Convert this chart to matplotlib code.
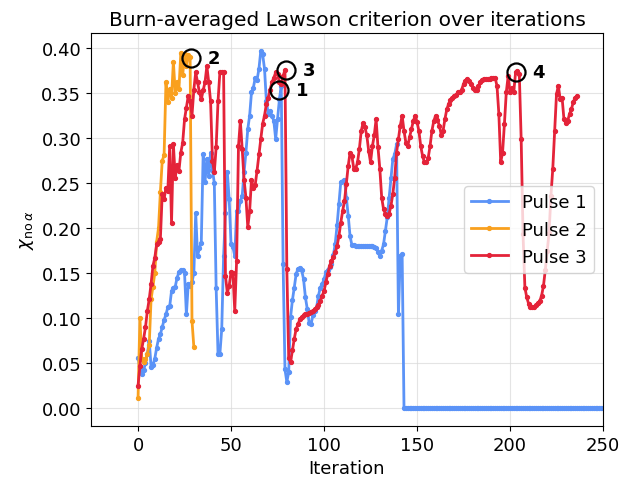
import matplotlib
matplotlib.use("Agg")
import matplotlib.pyplot as plt

pulse1 = [0.056, 0.045, 0.038, 0.042, 0.050, 0.060, 0.075, 0.046, 0.048, 0.055,
          0.067, 0.077, 0.082, 0.090, 0.098, 0.104, 0.112, 0.113, 0.130, 0.133,
          0.135, 0.145, 0.151, 0.153, 0.154, 0.150, 0.104, 0.138, 0.136, 0.140,
          0.150, 0.217, 0.169, 0.178, 0.184, 0.282, 0.251, 0.277, 0.258, 0.284,
          0.265, 0.250, 0.133, 0.060, 0.060, 0.088, 0.169, 0.217, 0.262, 0.232,
          0.182, 0.179, 0.169, 0.219, 0.219, 0.230, 0.236, 0.262, 0.284, 0.310,
          0.325, 0.351, 0.356, 0.367, 0.365, 0.377, 0.397, 0.393, 0.377, 0.341,
          0.327, 0.330, 0.325, 0.319, 0.299, 0.321, 0.343, 0.358, 0.160, 0.043,
          0.029, 0.040, 0.101, 0.120, 0.134, 0.149, 0.155, 0.156, 0.153, 0.143,
          0.123, 0.110, 0.095, 0.093, 0.103, 0.108, 0.112, 0.125, 0.134, 0.138,
          0.143, 0.151, 0.153, 0.157, 0.160, 0.170, 0.182, 0.203, 0.227, 0.251,
          0.252, 0.254, 0.234, 0.214, 0.191, 0.181, 0.181, 0.180, 0.180, 0.180,
          0.180, 0.180, 0.180, 0.180, 0.180, 0.180, 0.180, 0.179, 0.178, 0.173,
          0.169, 0.175, 0.182, 0.197, 0.212, 0.234, 0.256, 0.277, 0.282, 0.293,
          0.104, 0.169, 0.171] + [0.0] * 108

pulse2 = [0.011, 0.100, 0.055, 0.051, 0.054, 0.060, 0.070, 0.121, 0.135, 0.150,
          0.185, 0.200, 0.240, 0.275, 0.281, 0.362, 0.340, 0.355, 0.345, 0.385,
          0.350, 0.362, 0.355, 0.395, 0.370, 0.393, 0.380, 0.392, 0.390, 0.097,
          0.068]

pulse3 = [0.025, 0.047, 0.066, 0.077, 0.090, 0.108, 0.121, 0.138, 0.158, 0.167,
          0.182, 0.185, 0.188, 0.238, 0.232, 0.245, 0.241, 0.291, 0.206, 0.293,
          0.256, 0.270, 0.264, 0.284, 0.295, 0.321, 0.334, 0.347, 0.341, 0.325,
          0.354, 0.373, 0.362, 0.351, 0.343, 0.353, 0.362, 0.380, 0.362, 0.341,
          0.275, 0.262, 0.290, 0.341, 0.373, 0.373, 0.373, 0.147, 0.128, 0.136,
          0.151, 0.150, 0.108, 0.164, 0.291, 0.319, 0.288, 0.254, 0.234, 0.201,
          0.219, 0.254, 0.245, 0.248, 0.264, 0.282, 0.299, 0.316, 0.325, 0.338,
          0.345, 0.354, 0.362, 0.367, 0.373, 0.371, 0.362, 0.360, 0.369, 0.376,
          0.155, 0.056, 0.051, 0.064, 0.077, 0.088, 0.093, 0.099, 0.101, 0.103,
          0.104, 0.105, 0.106, 0.107, 0.108, 0.110, 0.112, 0.115, 0.119, 0.125,
          0.130, 0.140, 0.149, 0.158, 0.164, 0.168, 0.173, 0.180, 0.191, 0.206,
          0.219, 0.230, 0.249, 0.269, 0.284, 0.280, 0.266, 0.266, 0.273, 0.288,
          0.308, 0.317, 0.312, 0.303, 0.286, 0.273, 0.291, 0.303, 0.321, 0.290,
          0.266, 0.234, 0.221, 0.216, 0.214, 0.216, 0.225, 0.238, 0.256, 0.284,
          0.299, 0.314, 0.325, 0.308, 0.295, 0.291, 0.301, 0.310, 0.319, 0.325,
          0.318, 0.308, 0.291, 0.280, 0.273, 0.273, 0.278, 0.291, 0.308, 0.319,
          0.325, 0.320, 0.314, 0.304, 0.308, 0.321, 0.332, 0.338, 0.342, 0.345,
          0.347, 0.348, 0.351, 0.351, 0.354, 0.360, 0.364, 0.366, 0.364, 0.360,
          0.356, 0.354, 0.354, 0.358, 0.362, 0.365, 0.366, 0.366, 0.366, 0.366,
          0.367, 0.367, 0.367, 0.358, 0.327, 0.273, 0.284, 0.316, 0.351, 0.369,
          0.351, 0.356, 0.351, 0.373, 0.375, 0.371, 0.299, 0.193, 0.134, 0.123,
          0.116, 0.112, 0.112, 0.112, 0.114, 0.117, 0.119, 0.125, 0.136, 0.154,
          0.175, 0.195, 0.236, 0.266, 0.308, 0.349, 0.358, 0.343, 0.345, 0.321,
          0.317, 0.319, 0.327, 0.332, 0.340, 0.345, 0.347]

series_names = ["Pulse 1", "Pulse 2", "Pulse 3"]
series_colors = ["#5B93F7", "#F9A01E", "#E42339"]

mark_x = [75.8, 28.5, 79.6, 203.2]
mark_y = [0.354, 0.389, 0.376, 0.373]
mark_labels = ["1", "2", "3", "4"]

plt.rcParams["font.size"] = 13

fig = plt.figure(figsize=(6.33, 4.81), dpi=100)
ax = fig.add_axes([91 / 633, 1 - 427 / 481, (603 - 91) / 633, (427 - 34) / 481])

for vals, name, col in zip([pulse1, pulse2, pulse3], series_names, series_colors):
    ax.plot(range(len(vals)), vals, color=col, lw=2.0, marker="o", ms=2.8,
            label=name)

for mx, my, lab in zip(mark_x, mark_y, mark_labels):
    ax.plot([mx], [my], marker="o", ms=13, mfc="none", mec="black", mew=1.6,
            ls="none", zorder=5)
    ax.annotate(lab, (mx, my), xytext=(12, 0), textcoords="offset points",
                ha="left", va="center", fontsize=13, fontweight="bold")

ax.set_xlim(-25.3, 250)
ax.set_ylim(-0.0199, 0.4168)
ax.set_xticks([0, 50, 100, 150, 200, 250])
ax.set_yticks([0.0, 0.05, 0.10, 0.15, 0.20, 0.25, 0.30, 0.35, 0.40])
ax.grid(True, color="#d9d9d9", lw=0.8, alpha=0.7)
ax.set_axisbelow(True)
ax.set_title("Burn-averaged Lawson criterion over iterations", fontsize=14.5)
ax.set_xlabel("Iteration")
ax.set_ylabel(r"$\chi_{\mathrm{no}\,\alpha}$")
ax.legend(loc="center right")

fig.savefig("out.png", dpi=100)
